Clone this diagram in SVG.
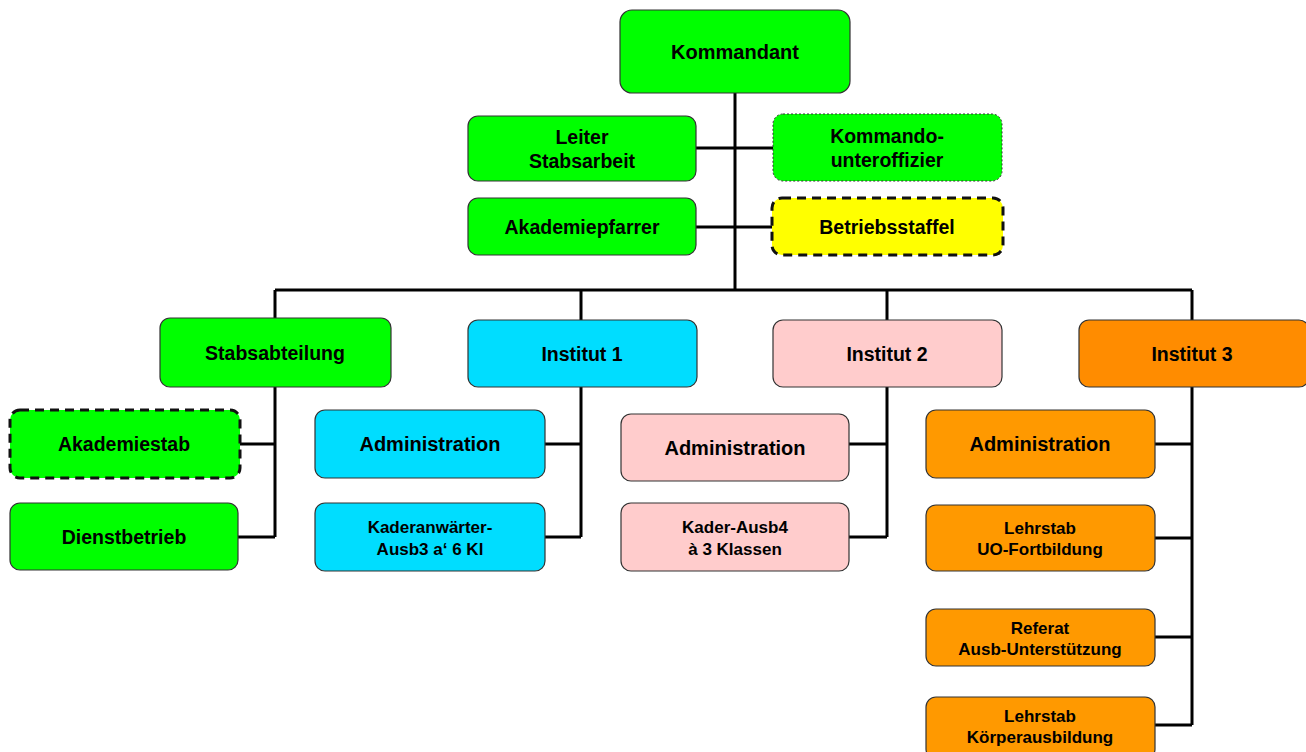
<svg xmlns="http://www.w3.org/2000/svg" width="1306" height="752" viewBox="0 0 1306 752">
<style>
.b{stroke:#333;stroke-width:1.2}
.g{fill:#00ff00}.c{fill:#00ddff}.p{fill:#ffcccc}.o{fill:#ff9900}.o2{fill:#ff8c00}.y{fill:#ffff00}
.dash{stroke:#111;stroke-width:3;stroke-dasharray:9 6}
.dot{stroke:#333;stroke-width:1;stroke-dasharray:2 2}
text{font-family:"Liberation Sans",Arial,sans-serif;font-weight:bold;fill:#000;text-anchor:middle}
.l{font-size:20px}.m{font-size:19.5px}.s{font-size:17px}
.con{stroke:#000;stroke-width:3;fill:none}
</style>
<rect width="1306" height="752" fill="#fff"/>
<g id="connectors" class="con">
<path d="M735 93V290"/>
<path d="M696 148H773"/>
<path d="M696 227H773"/>
<path d="M275 290H1192M275 290V318M581 290V320M887 290V320M1192 290V320"/>
<path d="M275 387V537M240 444H275M238 537H275"/>
<path d="M581 387V537M545 444H581M545 537H581"/>
<path d="M887 387V537M849 444H887M849 537H887"/>
<path d="M1192 387V725M1155 444H1192M1155 538H1192M1155 637H1192M1155 725H1192"/>
</g>
<g id="kommandant"><rect class="b g" x="620" y="10" width="230" height="83" rx="12"/><text class="l" x="735" y="59">Kommandant</text></g>
<g id="leiter"><rect class="b g" x="468" y="116" width="228" height="65" rx="10"/><text class="m" x="582" y="144">Leiter</text><text class="m" x="582" y="168">Stabsarbeit</text></g>
<g id="kommando-uof"><rect class="dot g" x="773" y="114" width="229" height="67" rx="10"/><text class="m" x="887" y="143">Kommando-</text><text class="m" x="887" y="167">unteroffizier</text></g>
<g id="pfarrer"><rect class="b g" x="468" y="198" width="228" height="57" rx="10"/><text class="m" x="582" y="234">Akademiepfarrer</text></g>
<g id="betriebsstaffel"><rect class="dash y" x="772" y="198" width="231" height="57" rx="10"/><text class="m" x="887" y="234">Betriebsstaffel</text></g>
<g id="stabsabteilung"><rect class="b g" x="160" y="318" width="231" height="69" rx="10"/><text class="m" x="275" y="360">Stabsabteilung</text></g>
<g id="institut1"><rect class="b c" x="468" y="320" width="229" height="67" rx="10"/><text class="m" x="582" y="361">Institut 1</text></g>
<g id="institut2"><rect class="b p" x="773" y="320" width="229" height="67" rx="10"/><text class="m" x="887" y="361">Institut 2</text></g>
<g id="institut3"><rect class="b o2" x="1079" y="320" width="230" height="67" rx="10"/><text class="m" x="1192" y="361">Institut 3</text></g>
<g id="akademiestab"><rect class="dash g" x="10" y="410" width="230" height="68" rx="10"/><text class="m" x="124" y="451">Akademiestab</text></g>
<g id="dienstbetrieb"><rect class="b g" x="10" y="503" width="228" height="67" rx="10"/><text class="m" x="124" y="544">Dienstbetrieb</text></g>
<g id="admin1"><rect class="b c" x="315" y="410" width="230" height="68" rx="10"/><text class="l" x="430" y="451">Administration</text></g>
<g id="kaderanwaerter"><rect class="b c" x="315" y="503" width="230" height="68" rx="10"/><text class="s" x="430" y="533">Kaderanwärter-</text><text class="s" x="430" y="555">Ausb3 a‘ 6 Kl</text></g>
<g id="admin2"><rect class="b p" x="621" y="414" width="228" height="67" rx="10"/><text class="l" x="735" y="455">Administration</text></g>
<g id="kaderausb4"><rect class="b p" x="621" y="503" width="228" height="68" rx="10"/><text class="s" x="735" y="533">Kader-Ausb4</text><text class="s" x="735" y="555">à 3 Klassen</text></g>
<g id="admin3"><rect class="b o" x="926" y="410" width="229" height="68" rx="10"/><text class="l" x="1040" y="451">Administration</text></g>
<g id="lehrstab-uo"><rect class="b o" x="926" y="505" width="229" height="66" rx="10"/><text class="s" x="1040" y="534">Lehrstab</text><text class="s" x="1040" y="555">UO-Fortbildung</text></g>
<g id="referat"><rect class="b o" x="926" y="609" width="229" height="57" rx="10"/><text class="s" x="1040" y="634">Referat</text><text class="s" x="1040" y="655">Ausb-Unterstützung</text></g>
<g id="lehrstab-koerper"><rect class="b o" x="926" y="697" width="229" height="62" rx="10"/><text class="s" x="1040" y="722">Lehrstab</text><text class="s" x="1040" y="743">Körperausbildung</text></g>
</svg>
